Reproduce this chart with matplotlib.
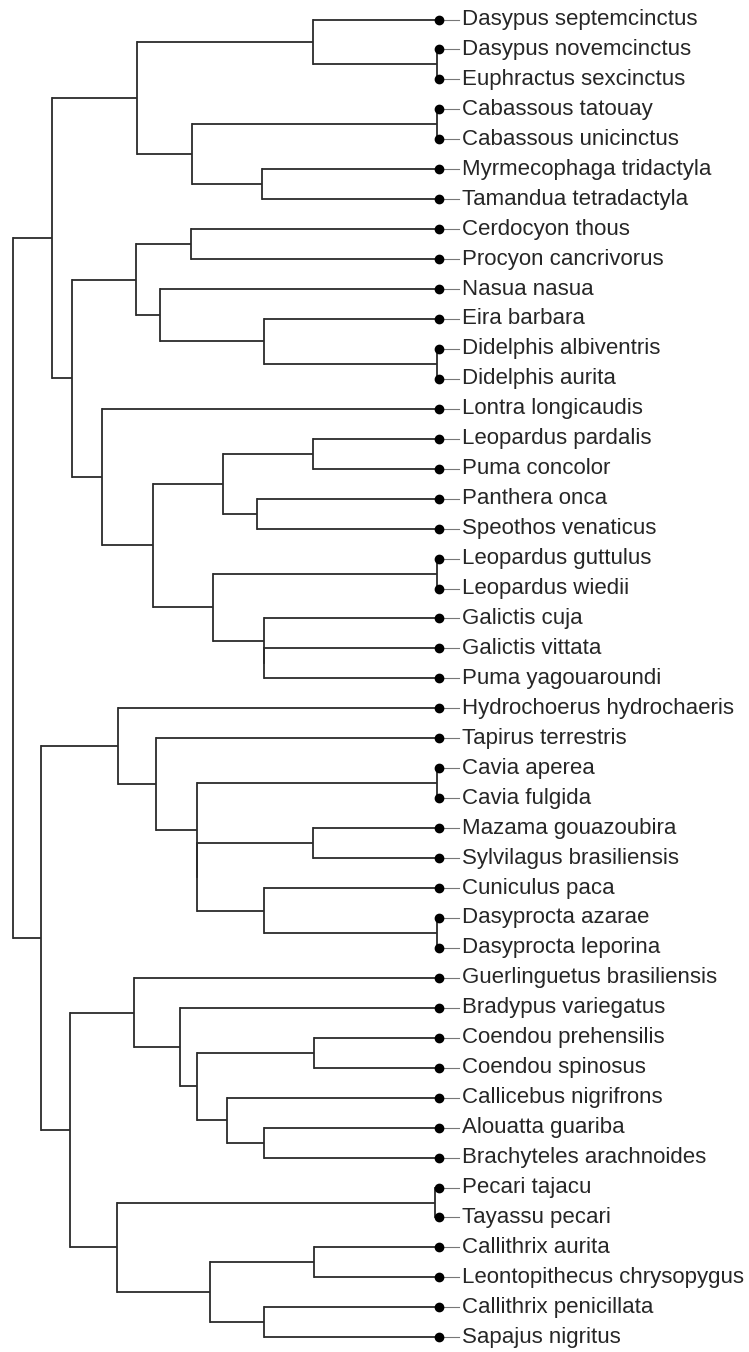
import numpy as np
import matplotlib
matplotlib.use("Agg")
import matplotlib.pyplot as plt

# tip labels, top to bottom
tips = ["Dasypus septemcinctus", "Dasypus novemcinctus", "Euphractus sexcinctus",
        "Cabassous tatouay", "Cabassous unicinctus", "Myrmecophaga tridactyla",
        "Tamandua tetradactyla", "Cerdocyon thous", "Procyon cancrivorus",
        "Nasua nasua", "Eira barbara", "Didelphis albiventris", "Didelphis aurita",
        "Lontra longicaudis", "Leopardus pardalis", "Puma concolor", "Panthera onca",
        "Speothos venaticus", "Leopardus guttulus", "Leopardus wiedii",
        "Galictis cuja", "Galictis vittata", "Puma yagouaroundi",
        "Hydrochoerus hydrochaeris", "Tapirus terrestris", "Cavia aperea",
        "Cavia fulgida", "Mazama gouazoubira", "Sylvilagus brasiliensis",
        "Cuniculus paca", "Dasyprocta azarae", "Dasyprocta leporina",
        "Guerlinguetus brasiliensis", "Bradypus variegatus", "Coendou prehensilis",
        "Coendou spinosus", "Callicebus nigrifrons", "Alouatta guariba",
        "Brachyteles arachnoides", "Pecari tajacu", "Tayassu pecari",
        "Callithrix aurita", "Leontopithecus chrysopygus", "Callithrix penicillata",
        "Sapajus nigritus"]

# hclust-style merges: negative = tip (1-based), positive = earlier merge
merge_a = [-2, -1, -4, -6, 3, 2, -8, -12, -11, -10, 7, -15, -17, 12, -19, -22,
           -21, 15, 14, -14, 11, 6, -26, -28, -31, -30, 24, 23, -25, -24, -35,
           -38, -37, 31, -34, -33, -40, -42, -44, 38, 37, 36, 30, 22]
merge_b = [-3, 1, -5, -7, 4, 5, -9, -13, 8, 9, 10, -16, -18, 13, -20, -23,
           16, 17, 18, 19, 20, 21, -27, -29, -32, 25, 26, 27, 28, 29, -36,
           -39, 32, 33, 34, 35, -41, -43, -45, 39, 40, 41, 42, 43]
# merge heights (root = 1)
merge_h = [0.005, 0.296, 0.005, 0.415, 0.580, 0.709, 0.582, 0.005, 0.411, 0.655,
           0.711, 0.296, 0.427, 0.507, 0.005, 0.411, 0.411, 0.531, 0.671, 0.791,
           0.861, 0.908, 0.005, 0.296, 0.005, 0.411, 0.568, 0.568, 0.664, 0.754,
           0.293, 0.411, 0.498, 0.568, 0.608, 0.716, 0.009, 0.293, 0.411, 0.538,
           0.756, 0.866, 0.934, 1.000]

line_col = "#2b2b2b"

fig = plt.figure(figsize=(7.49, 13.52), dpi=100)
ax = fig.add_axes([0, 0, 1, 1])
ax.set_axis_off()


def pos(k, node_x, node_y):
    if k < 0:
        return 0.0, float(-k - 1)
    return node_x[k - 1], node_y[k - 1]


node_x, node_y = [], []
for a, b, h in zip(merge_a, merge_b, merge_h):
    xa, ya = pos(a, node_x, node_y)
    xb, yb = pos(b, node_x, node_y)
    x = -h
    y = (ya + yb) / 2
    # horizontal branches to the children
    ax.plot([x, xa], [ya, ya], color=line_col, lw=1.3, solid_capstyle="butt")
    ax.plot([x, xb], [yb, yb], color=line_col, lw=1.3, solid_capstyle="butt")
    # vertical connector
    ax.plot([x, x], [ya, yb], color=line_col, lw=1.3, solid_capstyle="projecting")
    node_x.append(x)
    node_y.append(y)

tip_y = np.arange(len(tips))
for i, name in enumerate(tips):
    ax.plot([0, 0.048], [i, i], color="#777777", lw=0.8)
    ax.text(0.054, i, name, fontsize=16, family="Liberation Sans",
            color="#262626", va="center", ha="left")
ax.plot(np.zeros(len(tips)), tip_y, "o", color="black", markersize=6)

ax.set_xlim(-439 / 426, (749 - 439) / 426)
ax.set_ylim((1352 - 19.5) / 29.95, -19.5 / 29.95)

fig.savefig("out.png", dpi=100, facecolor="white")
